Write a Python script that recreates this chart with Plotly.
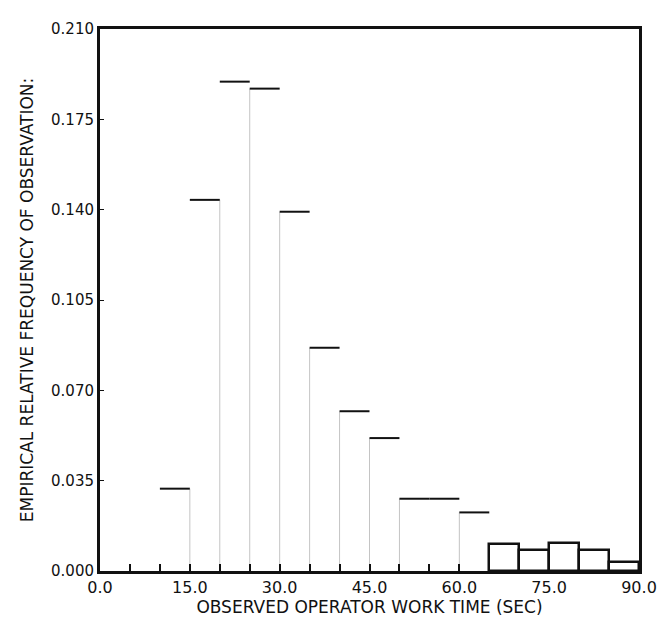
import plotly.graph_objects as go

bin_left = [10, 15, 20, 25, 30, 35, 40, 45, 50, 55, 60, 65, 70, 75, 80, 85]
freq = [0.0319, 0.1438, 0.1896, 0.1869, 0.1392, 0.0865, 0.0619, 0.0515,
        0.0280, 0.0280, 0.0227, 0.0104, 0.0081, 0.0108, 0.0081, 0.0033]
bin_width = 5
x_ticks = [0, 15, 30, 45, 60, 75, 90]
x_tick_labels = ["0.0", "15.0", "30.0", "45.0", "60.0", "75.0", "90.0"]
y_ticks = [0.0, 0.035, 0.070, 0.105, 0.140, 0.175, 0.210]
y_tick_labels = ["0.000", "0.035", "0.070", "0.105", "0.140", "0.175", "0.210"]
boxed_from = 65  # bins from here on are drawn as outlined boxes

fig = go.Figure()

# step tops for the histogram bins
xs, ys = [], []
for l, f in zip(bin_left, freq):
    if l < boxed_from:
        xs += [l, l + bin_width, None]
        ys += [f, f, None]
fig.add_trace(go.Scatter(x=xs, y=ys, mode="lines",
                         line=dict(color="#111", width=2), showlegend=False,
                         hoverinfo="skip"))

# faint partial edges between bins where heights differ (as seen on the scan)
ex, ey = [], []
for i in range(1, len(bin_left)):
    l = bin_left[i]
    if l < boxed_from and freq[i] != freq[i - 1]:
        lo = min(freq[i - 1], freq[i])
        ex += [l, l, None]
        ey += [0, lo, None]
fig.add_trace(go.Scatter(x=ex, y=ey, mode="lines",
                         line=dict(color="rgba(60,60,60,0.3)", width=1),
                         showlegend=False, hoverinfo="skip"))

# outlined boxes for the last bins
bx = [l + bin_width / 2 for l in bin_left if l >= boxed_from]
by = [f for l, f in zip(bin_left, freq) if l >= boxed_from]
fig.add_trace(go.Bar(x=bx, y=by, width=bin_width,
                     marker=dict(color="rgba(255,255,255,0)",
                                 line=dict(color="#111", width=2.5)),
                     showlegend=False))

font = dict(family="DejaVu Sans, Arial, sans-serif", color="#111", size=15)

fig.update_layout(
    width=669, height=622,
    margin=dict(l=100, r=18, t=29, b=47),
    paper_bgcolor="white", plot_bgcolor="white",
    font=font,
    xaxis=dict(range=[0, 90], tickvals=x_ticks, ticktext=x_tick_labels,
               ticks="inside", ticklen=7, tickwidth=2, tickcolor="#111",
               minor=dict(dtick=5, tick0=0, ticks="inside", ticklen=7,
                          tickwidth=2, tickcolor="#111"),
               showline=True, linecolor="#111", linewidth=3, mirror=True,
               showgrid=False, zeroline=False,
               title=dict(text="OBSERVED OPERATOR WORK TIME (SEC)",
                          standoff=1, font=dict(size=17)),
               tickfont=dict(size=16)),
    yaxis=dict(range=[0, 0.21], tickvals=y_ticks, ticktext=y_tick_labels,
               ticks="inside", ticklen=4, tickwidth=1, tickcolor="#111",
               showline=True, linecolor="#111", linewidth=3, mirror=True,
               showgrid=False, zeroline=False,
               title=dict(text="EMPIRICAL RELATIVE FREQUENCY OF OBSERVATION:",
                          standoff=14, font=dict(size=17)),
               tickfont=dict(size=15)),
    bargap=0,
)

fig.write_html("out.html")
